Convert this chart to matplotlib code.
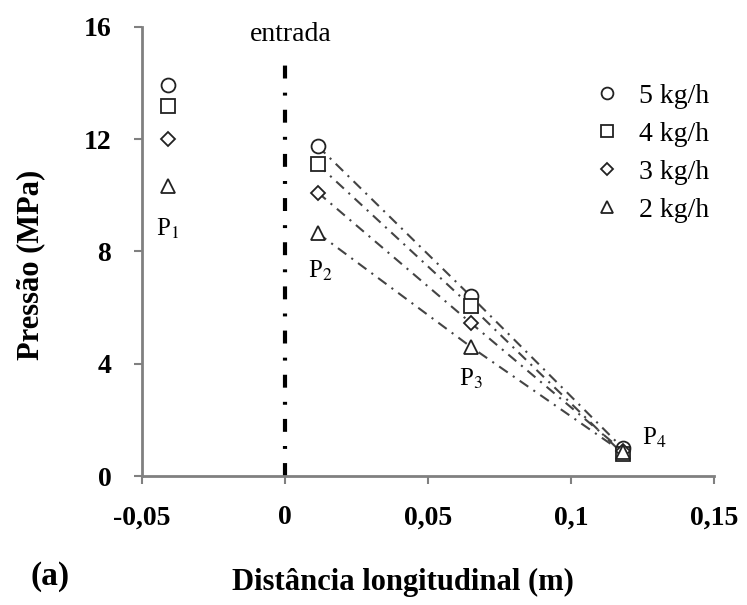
import matplotlib
matplotlib.use('Agg')
import matplotlib.pyplot as plt
from matplotlib.ticker import FuncFormatter

plt.rcParams['font.family'] = 'Liberation Serif'
plt.rcParams['mathtext.fontset'] = 'stix'

# positions (m) of the pressure taps
x_pos = [-0.041, 0.0115, 0.065, 0.118]
tap_labels = ['P$_1$', 'P$_2$', 'P$_3$', 'P$_4$']

# pressure (MPa) for each mass flow
p_5kg = [13.95, 11.75, 6.4, 1.0]
p_4kg = [13.2, 11.1, 6.05, 0.8]
p_3kg = [12.0, 10.1, 5.45, 0.9]
p_2kg = [10.35, 8.65, 4.6, 0.85]

series = [('5 kg/h', p_5kg, 'o'), ('4 kg/h', p_4kg, 's'),
          ('3 kg/h', p_3kg, 'D'), ('2 kg/h', p_2kg, '^')]

fig = plt.figure(figsize=(7.47, 6.05), dpi=100)
ax = fig.add_axes([0.190, 0.2132, 0.766, 0.7422])

for name, p, m in series:
    ms = {'o': 10, 's': 10, 'D': 7.5, '^': 10}[m]
    # dashed trend line from P2 to P4
    ax.plot(x_pos[1:], p[1:], color='#444444', lw=1.5,
            linestyle=(0, (5, 3, 1, 3)), zorder=2)
    ax.plot(x_pos, p, linestyle='none', marker=m, ms=ms,
            mfc='white', mec='#222222', mew=1.3, label=name, zorder=3)

# inlet line
ax.plot([0, 0], [0, 14.8], color='black', lw=3,
        linestyle=(0, (3.1, 3.4, 0.7, 3.4)), zorder=1)
ax.text(0.002, 15.5, 'entrada', ha='center', va='baseline', fontsize=20)

# tap labels
label_xy = [(-0.041, 8.8), (0.0125, 7.3), (0.065, 3.45), (0.129, 1.35)]
for lab, (lx, ly) in zip(tap_labels, label_xy):
    ax.text(lx, ly, lab, ha='center', va='center', fontsize=18)

ax.set_xlim(-0.05, 0.15)
ax.set_ylim(0, 16)
ax.set_xticks([-0.05, 0, 0.05, 0.1, 0.15])
ax.set_yticks([0, 4, 8, 12, 16])

def comma_fmt(v, pos):
    if abs(v) < 1e-9:
        return '0'
    return ('%g' % v).replace('.', ',')

ax.xaxis.set_major_formatter(FuncFormatter(comma_fmt))

for s in ['top', 'right']:
    ax.spines[s].set_visible(False)
for s in ['left', 'bottom']:
    ax.spines[s].set_color('#808080')
    ax.spines[s].set_linewidth(2)

ax.tick_params(axis='both', colors='#808080', length=6, width=1.5,
               labelcolor='black', labelsize=20)
ax.tick_params(axis='x', pad=15)
ax.tick_params(axis='y', pad=16)
for lab in ax.get_xticklabels() + ax.get_yticklabels():
    lab.set_fontweight('bold')

fig.text(403 / 747, 1 - 582 / 605, 'Distância longitudinal (m)', fontsize=22,
         fontweight='bold', ha='center', va='center')
fig.text(31 / 747, 1 - 265 / 605, 'Pressão (MPa)', fontsize=22,
         fontweight='bold', ha='center', va='center', rotation=90)
fig.text(50 / 747, 1 - 577 / 605, '(a)', fontsize=24, fontweight='bold',
         ha='center', va='center')

ax.legend(loc='upper right', bbox_to_anchor=(1.035, 0.93), frameon=False,
          fontsize=20, handletextpad=0.55, labelspacing=0.45, markerscale=0.85,
          handlelength=1.2)

fig.savefig('out.png', dpi=100)
